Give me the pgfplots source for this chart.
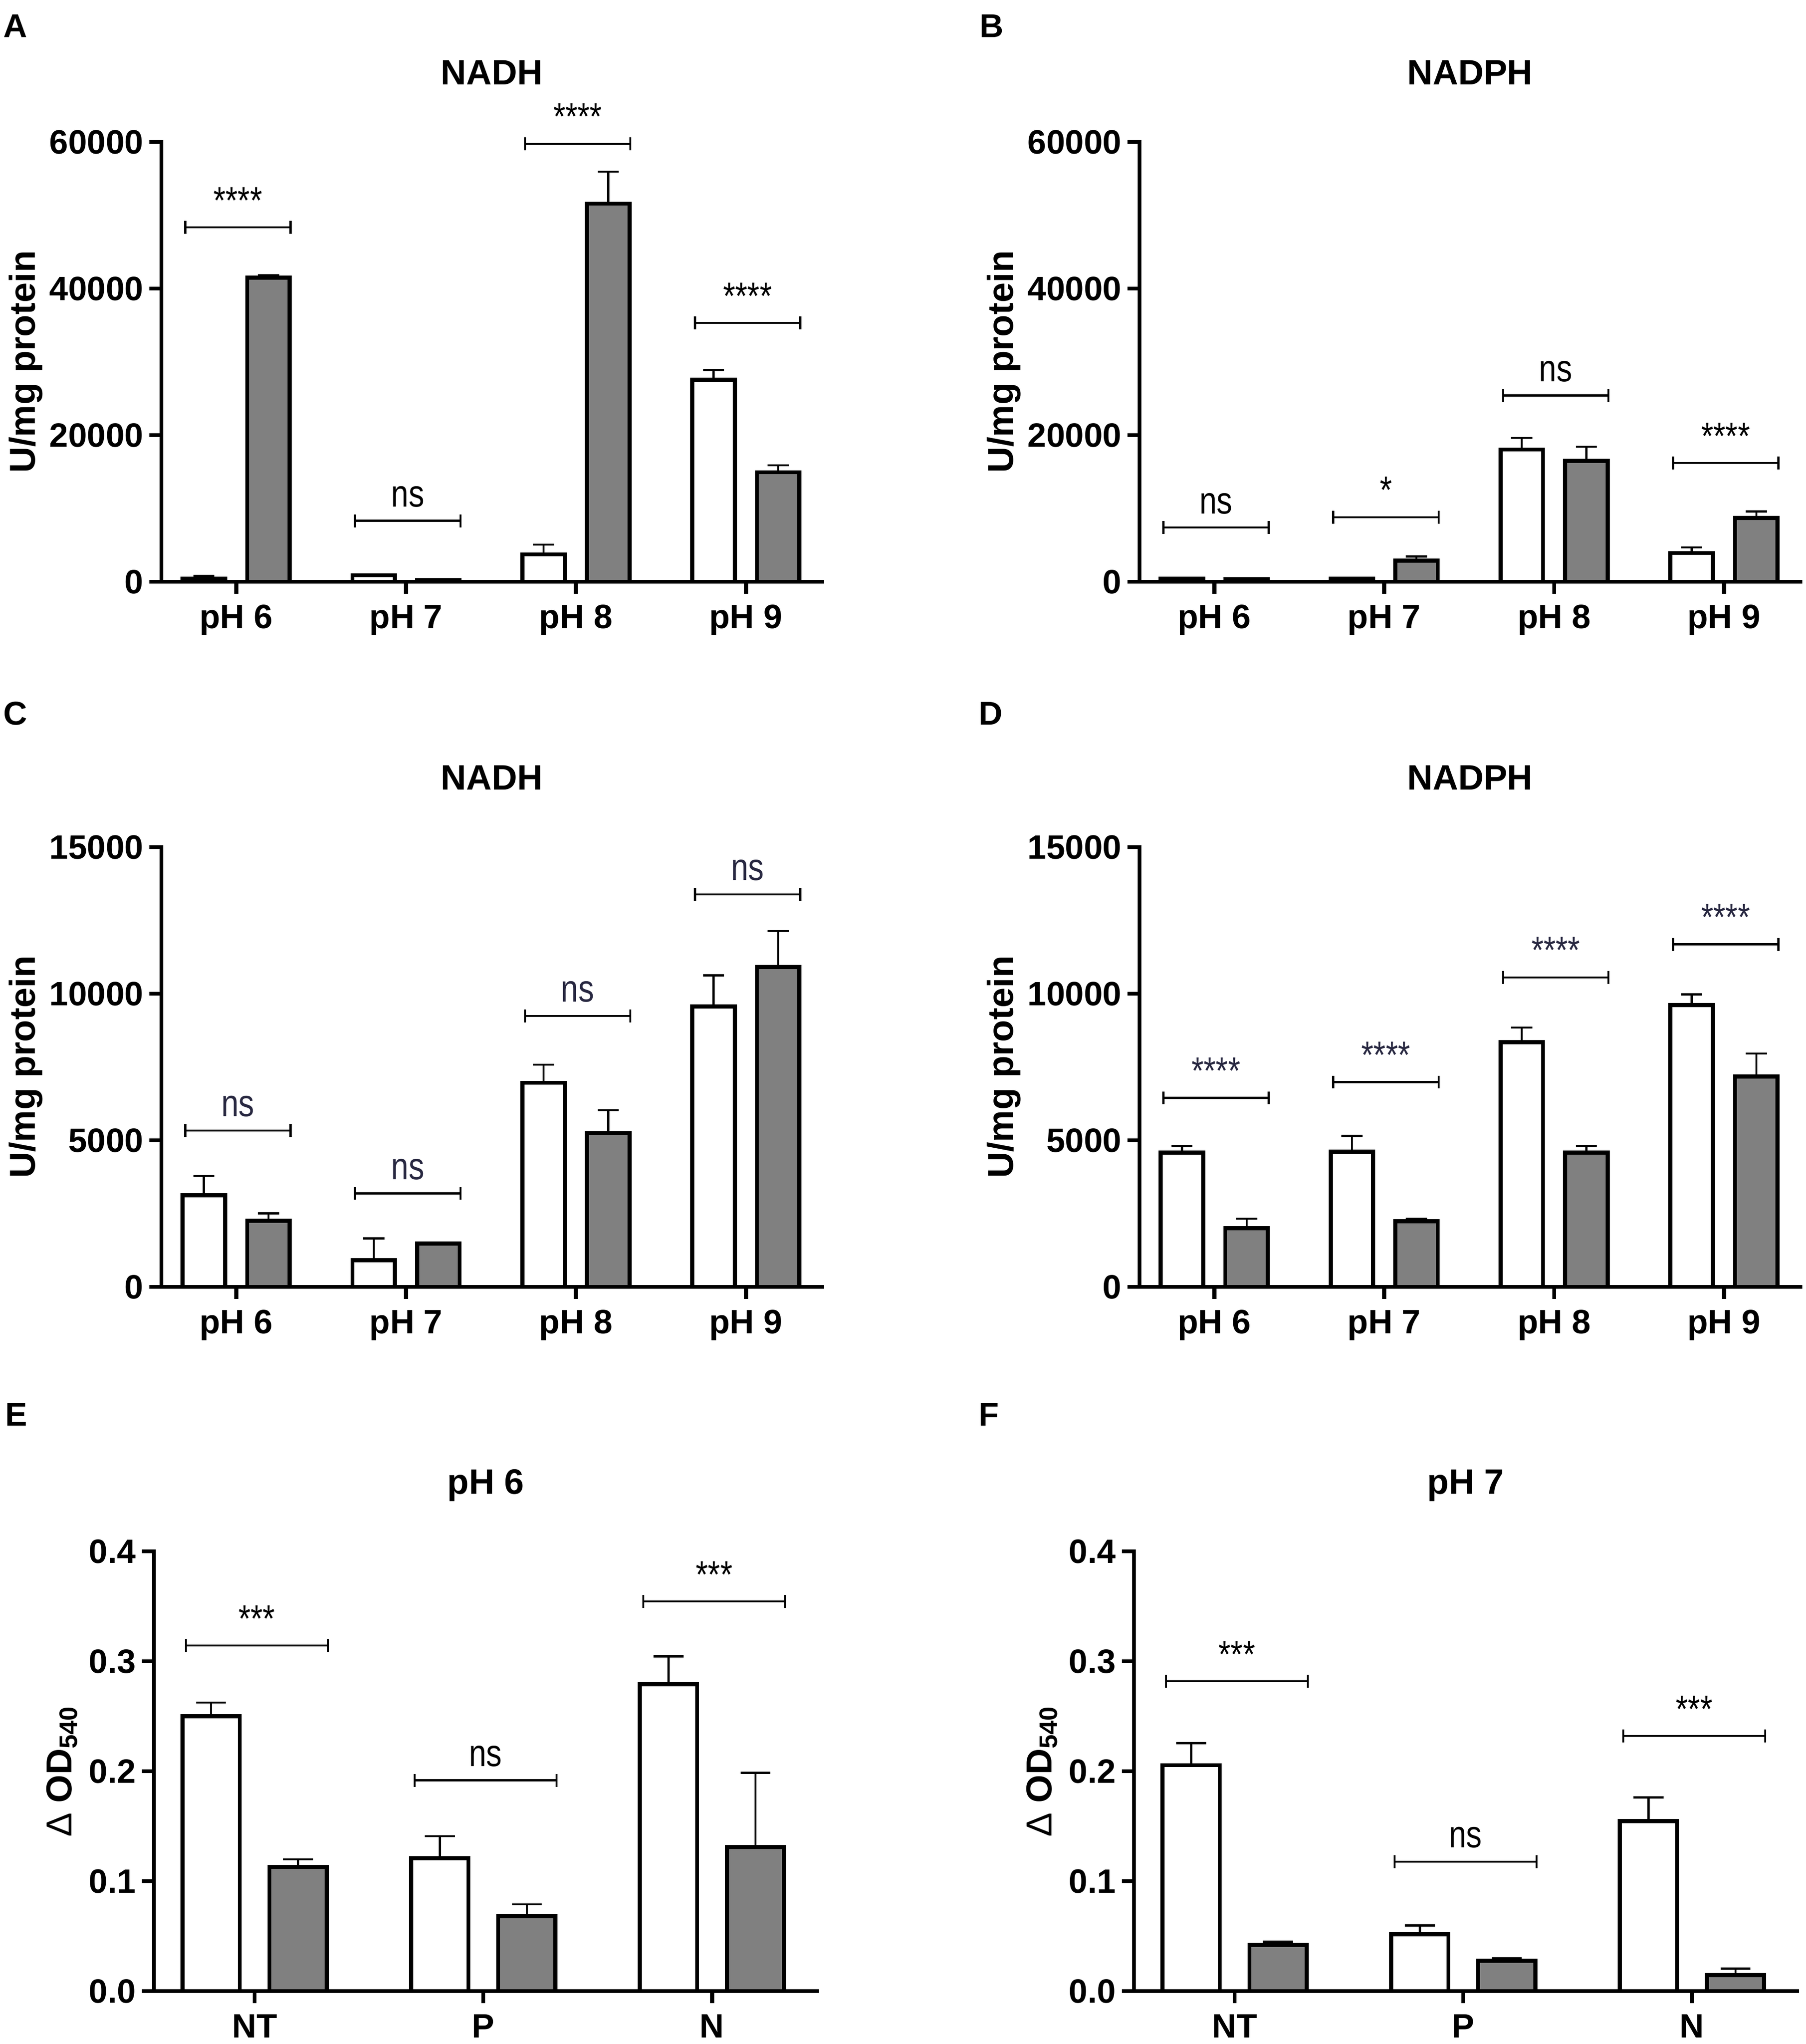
\documentclass[border=0pt]{standalone}
\usepackage{fontspec}
\setmainfont{Liberation Sans}
\newfontfamily\sigfamily[FakeStretch=0.82]{Liberation Sans}
\usepackage{pgfplots}
\pgfplotsset{compat=1.18}
\definecolor{barg}{RGB}{128,128,128}
\definecolor{sigc}{RGB}{40,40,65}
\newcommand{\tickf}{\fontsize{13.1}{15.7}\selectfont\bfseries}
\newcommand{\labf}{\fontsize{14}{16.8}\selectfont\bfseries}
\newcommand{\titf}{\fontsize{13.7}{16.4}\selectfont\bfseries}
\newcommand{\letf}{\fontsize{12.8}{15.4}\selectfont\bfseries}
\newcommand{\sigf}{\sigfamily\fontsize{14.8}{17.8}\selectfont}
% significance bracket: x1, x2, xc, y, text, colour
\newcommand{\sig}[6]{%
  \draw[line width=0.8pt, black] (axis cs:#1,#4) -- (axis cs:#2,#4);
  \draw[line width=0.8pt, black] (axis cs:#1,#4) ++(0pt,-2.5pt) -- ++(0pt,5pt);
  \draw[line width=0.8pt, black] (axis cs:#2,#4) ++(0pt,-2.5pt) -- ++(0pt,5pt);
  \node[anchor=base, inner sep=0pt, text=#6, font=\sigf] at ([yshift=5.4pt]axis cs:#3,#4) {#5};
}
\pgfplotsset{
  panel/.style={
    scale only axis, height=170.64pt, anchor=south west,
    axis x line*=bottom, axis y line*=left,
    axis line style={line width=1.57pt, line cap=rect, -},
    tick align=outside, major tick length=4.7pt,
    major tick style={line width=1.57pt, black},
    minor tick num=0, ymin=0, clip=false, scaled y ticks=false,
    ticklabel style={font=\tickf},
    yticklabel style={anchor=east, inner sep=0pt, xshift=-2.1pt},
    xticklabel style={anchor=north, inner sep=0pt, yshift=-4.1pt},
    every axis title/.style={at={(0.5,1)}, font=\titf, anchor=base, yshift=22.2pt, inner sep=0pt},
    every axis y label/.style={at={([xshift=-#1]axis description cs:0,0.5)}, rotate=90, anchor=base, inner sep=0pt, font=\labf},
  },
  wbar/.style={ybar, bar width=0.25, bar shift=0, fill=white, draw=black, line width=1.57pt,
    error bars/.cd, y dir=plus, y explicit, error mark=|, error bar style={line width=0.8pt, black},
    error mark options={line width=0.8pt, black, mark size=#1}},
  gbar/.style={ybar, bar width=0.25, bar shift=0, fill=barg, draw=black, line width=1.57pt,
    error bars/.cd, y dir=plus, y explicit, error mark=|, error bar style={line width=0.8pt, black},
    error mark options={line width=0.8pt, black, mark size=#1}},
}
\begin{document}
\begin{tikzpicture}
\path[use as bounding box] (0pt,0pt) rectangle (700.92pt,793.08pt);

% ---------- A ----------
\begin{axis}[panel=49pt, at={(62.64pt,567.36pt)}, width=256.5pt,
  xmin=-0.44, xmax=3.45, ymax=60000,
  ytick={0,20000,40000,60000}, yticklabels={0,20000,40000,60000},
  xtick={0,1,2,3}, xticklabels={pH 6,pH 7,pH 8,pH 9},
  title={NADH}, ylabel={U/mg protein}]
\addplot[wbar=4.1pt] coordinates {(-0.19,450) +- (0,330) (0.81,880) +- (0,60) (1.81,3730) +- (0,1330) (2.81,27560) +- (0,1340)};
\addplot[gbar=4.1pt] coordinates {(0.19,41500) +- (0,350) (1.19,230) +- (0,30) (2.19,51580) +- (0,4370) (3.19,14940) +- (0,950)};
\sig{-0.30}{0.32}{0.01}{48350}{****}{black}
\sig{0.70}{1.32}{1.01}{8310}{ns}{black}
\sig{1.70}{2.32}{2.01}{59750}{****}{black}
\sig{2.70}{3.32}{3.01}{35300}{****}{black}
\end{axis}

% ---------- B ----------
\begin{axis}[panel=49pt, at={(442.26pt,567.36pt)}, width=256.5pt,
  xmin=-0.44, xmax=3.45, ymax=60000,
  ytick={0,20000,40000,60000}, yticklabels={0,20000,40000,60000},
  xtick={0,1,2,3}, xticklabels={pH 6,pH 7,pH 8,pH 9},
  title={NADPH}, ylabel={U/mg protein}]
\addplot[wbar=4.1pt] coordinates {(-0.19,420) +- (0,150) (0.81,430) +- (0,60) (1.81,18030) +- (0,1600) (2.81,3920) +- (0,760)};
\addplot[gbar=4.1pt] coordinates {(0.19,330) +- (0,50) (1.19,2900) +- (0,540) (2.19,16500) +- (0,1900) (3.19,8720) +- (0,880)};
\sig{-0.30}{0.32}{0.01}{7390}{ns}{black}
\sig{0.70}{1.32}{1.01}{8800}{*}{black}
\sig{1.70}{2.32}{2.01}{25400}{ns}{black}
\sig{2.70}{3.32}{3.01}{16200}{****}{black}
\end{axis}

% ---------- C ----------
\begin{axis}[panel=49pt, at={(62.64pt,293.76pt)}, width=256.5pt,
  xmin=-0.44, xmax=3.45, ymax=15000,
  ytick={0,5000,10000,15000}, yticklabels={0,5000,10000,15000},
  xtick={0,1,2,3}, xticklabels={pH 6,pH 7,pH 8,pH 9},
  title={NADH}, ylabel={U/mg protein}]
\addplot[wbar=4.1pt] coordinates {(-0.19,3125) +- (0,655) (0.81,910) +- (0,740) (1.81,6960) +- (0,617) (2.81,9570) +- (0,1055)};
\addplot[gbar=4.1pt] coordinates {(0.19,2250) +- (0,260) (1.19,1475) +- (0,30) (2.19,5240) +- (0,785) (3.19,10910) +- (0,1225)};
\sig{-0.30}{0.32}{0.01}{5334}{ns}{sigc}
\sig{0.70}{1.32}{1.01}{3189}{ns}{sigc}
\sig{1.70}{2.32}{2.01}{9242}{ns}{sigc}
\sig{2.70}{3.32}{3.01}{13390}{ns}{sigc}
\end{axis}

% ---------- D ----------
\begin{axis}[panel=49pt, at={(442.26pt,293.76pt)}, width=256.5pt,
  xmin=-0.44, xmax=3.45, ymax=15000,
  ytick={0,5000,10000,15000}, yticklabels={0,5000,10000,15000},
  xtick={0,1,2,3}, xticklabels={pH 6,pH 7,pH 8,pH 9},
  title={NADPH}, ylabel={U/mg protein}]
\addplot[wbar=4.1pt] coordinates {(-0.19,4580) +- (0,220) (0.81,4610) +- (0,540) (1.81,8345) +- (0,500) (2.81,9615) +- (0,360)};
\addplot[gbar=4.1pt] coordinates {(0.19,2000) +- (0,330) (1.19,2240) +- (0,75) (2.19,4580) +- (0,220) (3.19,7175) +- (0,785)};
\sig{-0.30}{0.32}{0.01}{6448}{****}{sigc}
\sig{0.70}{1.32}{1.01}{6985}{****}{sigc}
\sig{1.70}{2.32}{2.01}{10554}{****}{sigc}
\sig{2.70}{3.32}{3.01}{11683}{****}{sigc}
\end{axis}

% ---------- E ----------
\begin{axis}[panel=32pt, at={(59.76pt,20.52pt)}, width=257.4pt,
  xmin=-0.44, xmax=2.46, ymax=0.4,
  ytick={0,0.1,0.2,0.3,0.4}, yticklabels={0.0,0.1,0.2,0.3,0.4},
  xtick={0,1,2}, xticklabels={NT,P,N},
  title={pH 6}, ylabel={{\fontseries{m}\selectfont Δ} OD\textsubscript{540}}]
\addplot[wbar=5.8pt] coordinates {(-0.19,0.250) +- (0,0.0125) (0.81,0.121) +- (0,0.020) (1.81,0.279) +- (0,0.0255)};
\addplot[gbar=5.8pt] coordinates {(0.19,0.113) +- (0,0.0068) (1.19,0.068) +- (0,0.011) (2.19,0.131) +- (0,0.0675)};
\sig{-0.30}{0.32}{0.01}{0.3143}{***}{black}
\sig{0.70}{1.32}{1.01}{0.1917}{ns}{black}
\sig{1.70}{2.32}{2.01}{0.3544}{***}{black}
\end{axis}

% ---------- F ----------
\begin{axis}[panel=32pt, at={(440.1pt,20.52pt)}, width=257.4pt,
  xmin=-0.44, xmax=2.46, ymax=0.4,
  ytick={0,0.1,0.2,0.3,0.4}, yticklabels={0.0,0.1,0.2,0.3,0.4},
  xtick={0,1,2}, xticklabels={NT,P,N},
  title={pH 7}, ylabel={{\fontseries{m}\selectfont Δ} OD\textsubscript{540}}]
\addplot[wbar=5.8pt] coordinates {(-0.19,0.2055) +- (0,0.020) (0.81,0.0517) +- (0,0.008) (1.81,0.1545) +- (0,0.0217)};
\addplot[gbar=5.8pt] coordinates {(0.19,0.042) +- (0,0.003) (1.19,0.0275) +- (0,0.0023) (2.19,0.0145) +- (0,0.006)};
\sig{-0.30}{0.32}{0.01}{0.2818}{***}{black}
\sig{0.70}{1.32}{1.01}{0.1178}{ns}{black}
\sig{1.70}{2.32}{2.01}{0.2320}{***}{black}
\end{axis}

% panel letters
\node[anchor=base west, inner sep=0pt, font=\letf] at (1.08pt,778.5pt) {A};
\node[anchor=base west, inner sep=0pt, font=\letf] at (379.98pt,778.5pt) {B};
\node[anchor=base west, inner sep=0pt, font=\letf] at (1.08pt,511.9pt) {C};
\node[anchor=base west, inner sep=0pt, font=\letf] at (379.62pt,511.9pt) {D};
\node[anchor=base west, inner sep=0pt, font=\letf] at (1.8pt,239.9pt) {E};
\node[anchor=base west, inner sep=0pt, font=\letf] at (379.62pt,239.9pt) {F};
\end{tikzpicture}
\end{document}
